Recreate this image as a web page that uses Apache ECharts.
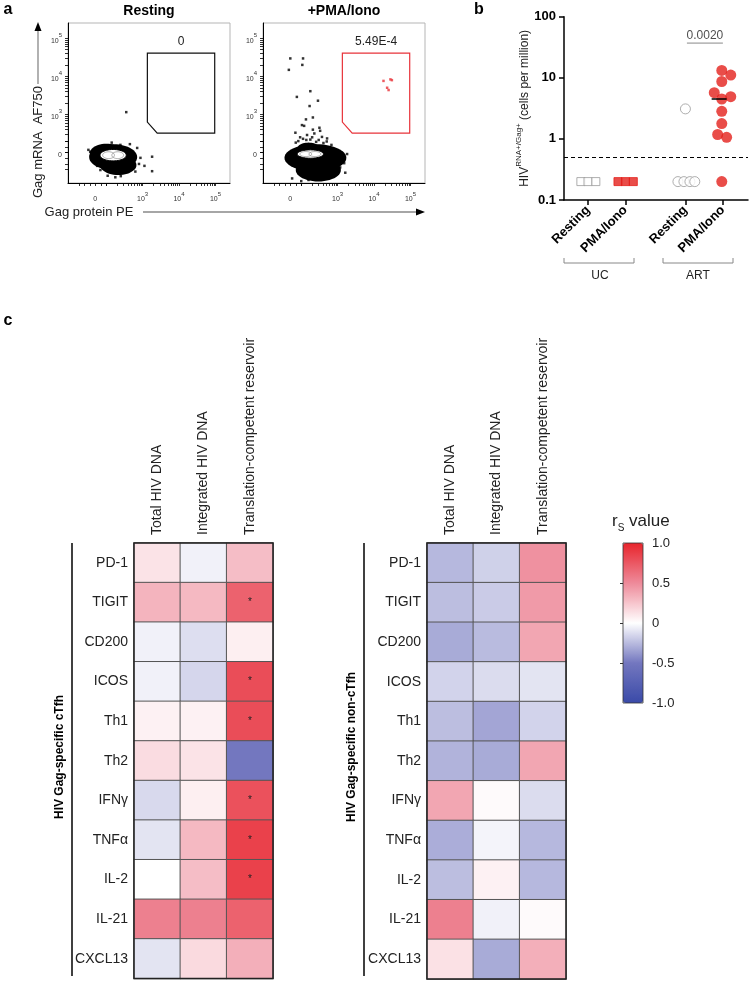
<!DOCTYPE html>
<html>
<head>
<meta charset="utf-8">
<script src="https://cdn.jsdelivr.net/npm/echarts@6.0.0/dist/echarts.min.js"></script>
<style>
html, body { margin: 0; padding: 0; background: #fff; }
#chart { width: 750px; height: 982px; }
</style>
</head>
<body>
<div id="chart"></div>
<script>
const FONT = '"Liberation Sans", Arial, sans-serif';

// ---- panel a: flow plots (axis units: 0 = zero, one unit per decade) ----
const flowTitles = ['Resting', '+PMA/Iono'];
const flowXTicks = [0, 1.3, 2.3, 3.3];
const flowYTicks = [0, 1, 2, 3];
const flowTickExp = ['', '3', '4', '5'];
const gatePolygon = [[1.43, 2.61], [3.28, 2.61], [3.28, 0.51], [1.70, 0.51], [1.43, 0.80]];
const gateFreq = ['0', '5.49E-4'];
const gateColors = ['#111', '#e8333a'];

// dense population drawn as ellipses [cx, cy, rx, ry]
const restingBlob = [[0.49, -0.12, 0.66, 0.34], [0.63, -0.33, 0.5, 0.26], [0.3, -0.02, 0.45, 0.25]];
const restingCore = [0.49, -0.07, 0.36, 0.15];
const restingEvents = [
  [0.85, 1.06], [1.56, -0.11], [1.35, -0.35], [1.56, -0.49], [1.10, -0.50],
  [0.34, -0.61], [0.55, -0.65], [-0.14, 0.02], [-0.19, 0.07], [-0.08, -0.2],
  [1.15, 0.12], [1.24, -0.14], [0.9, -0.51], [0.14, -0.46], [0.69, 0.2], [0.27, 0.17],
  [0.45, 0.26], [0.95, 0.22], [1.2, -0.3], [0.7, -0.62], [0.05, -0.35], [-0.12, -0.08]
];
const pmaBlob = [[0.69, -0.14, 0.85, 0.36], [0.77, -0.46, 0.62, 0.3], [0.5, 0.12, 0.3, 0.14]];
const pmaCore = [0.55, -0.04, 0.36, 0.11];
const pmaEvents = [
  [0.00, 2.47], [0.35, 2.47], [-0.04, 2.17], [0.33, 2.30], [0.18, 1.46], [0.55, 1.61],
  [0.76, 1.36], [0.53, 1.22], [0.62, 0.92], [0.43, 0.87], [0.32, 0.72], [0.38, 0.70],
  [0.14, 0.52], [0.80, 0.65], [0.82, 0.57], [0.66, 0.50], [0.46, 0.46], [0.27, 0.40],
  [0.60, 0.40], [0.87, 0.41], [1.01, 0.37], [1.42, -0.01], [1.56, -0.04], [1.48, -0.28],
  [1.37, -0.39], [1.51, -0.53], [0.50, -0.72], [0.05, -0.68], [0.22, 0.30], [0.44, 0.33],
  [0.71, 0.28], [0.91, 0.25], [1.13, 0.20], [-0.1, -0.1], [0.3, -0.75], [0.9, -0.7],
  [0.35, 0.36], [0.55, 0.34], [0.78, 0.33], [0.15, 0.26], [1.0, 0.29], [0.62, 0.6]
];
const pmaGateEvents = [[2.56, 1.88], [2.75, 1.92], [2.79, 1.90], [2.66, 1.70], [2.70, 1.64]];

// ---- panel b ----
const bCatPos = [0, 1, 2.6, 3.6];
const bCatNames = ['Resting', 'PMA/Iono', 'Resting', 'PMA/Iono'];
const ucResting = [[-0.19, 0.2], [0, 0.2], [0.21, 0.2]];
const ucPma = [[0.8, 0.2], [1, 0.2], [1.21, 0.2]];
const artResting = [[2.6, 3.1], [2.4, 0.2], [2.56, 0.2], [2.72, 0.2], [2.85, 0.2]];
const artPma = [[3.57, 13.2], [3.81, 11.1], [3.57, 8.7], [3.37, 5.7], [3.81, 4.9], [3.57, 4.5],
  [3.57, 2.83], [3.57, 1.78], [3.46, 1.18], [3.70, 1.06], [3.57, 0.2]];
const artPmaMedian = 4.5;
const detectionLimit = 0.5;
const pValue = '0.0020';
const pValueAt = 37;

// ---- panel c: heatmaps (Spearman r) ----
const hmCols = ['Total HIV DNA', 'Integrated HIV DNA', 'Translation-competent reservoir'];
const hmRows = ['PD-1', 'TIGIT', 'CD200', 'ICOS', 'Th1', 'Th2', 'IFNγ', 'TNFα', 'IL-2', 'IL-21', 'CXCL13'];
const cTfhValues = [
  [0.12, -0.05, 0.28],
  [0.32, 0.30, 0.70],
  [-0.05, -0.12, 0.07],
  [-0.05, -0.15, 0.80],
  [0.06, 0.06, 0.80],
  [0.15, 0.12, -0.50],
  [-0.14, 0.07, 0.78],
  [-0.10, 0.30, 0.86],
  [0.00, 0.28, 0.86],
  [0.55, 0.55, 0.70],
  [-0.10, 0.16, 0.34]
];
const cTfhStars = [[2, 1], [2, 3], [2, 4], [2, 6], [2, 7], [2, 8]];
const nonCTfhValues = [
  [-0.26, -0.17, 0.47],
  [-0.24, -0.19, 0.43],
  [-0.31, -0.25, 0.38],
  [-0.16, -0.13, -0.10],
  [-0.24, -0.33, -0.16],
  [-0.28, -0.31, 0.38],
  [0.38, 0.02, -0.13],
  [-0.30, -0.04, -0.26],
  [-0.24, 0.06, -0.26],
  [0.55, -0.05, 0.02],
  [0.13, -0.31, 0.34]
];
const scaleTicks = [-1, -0.5, 0, 0.5, 1];
const scaleColors = ['#3a4aa8', '#7377bf', '#ffffff', '#ee8a9a', '#e8252c'];

// ------------------------------------------------------------
function ring(api, cx, cy, rx, ry) {
  const pts = [];
  for (let i = 0; i < 48; i++) {
    const t = i / 48 * Math.PI * 2;
    pts.push(api.coord([cx + rx * Math.cos(t), cy + ry * Math.sin(t)]));
  }
  return pts;
}

function blobRender(params, api) {
  return {
    type: 'polygon',
    shape: { points: ring(api, api.value(0), api.value(1), api.value(2), api.value(3)) },
    style: { fill: '#000' }
  };
}

function coreRender(params, api) {
  const cx = api.value(0), cy = api.value(1), rx = api.value(2), ry = api.value(3);
  return {
    type: 'group',
    children: [
      { type: 'polygon', shape: { points: ring(api, cx, cy, rx, ry) }, style: { fill: '#fff', stroke: '#000', lineWidth: 1 } },
      { type: 'polygon', shape: { points: ring(api, cx - rx * 0.35, cy, rx * 0.45, ry * 0.6) }, style: { fill: 'none', stroke: '#888', lineWidth: 0.7 } },
      { type: 'polygon', shape: { points: ring(api, cx + rx * 0.35, cy, rx * 0.45, ry * 0.6) }, style: { fill: 'none', stroke: '#888', lineWidth: 0.7 } }
    ]
  };
}

function gateRender(color, freq) {
  return function (params, api) {
    if (params.dataIndex !== 0) return null;
    const pts = gatePolygon.map(p => api.coord(p));
    return {
      type: 'group',
      children: [
        { type: 'polygon', shape: { points: pts }, style: { fill: 'none', stroke: color, lineWidth: 1.2 } },
        { type: 'text', x: (pts[0][0] + pts[1][0]) / 2, y: pts[0][1] - 11,
          style: { text: freq, font: '12px ' + FONT, fill: '#222', align: 'center', verticalAlign: 'middle' } }
      ]
    };
  };
}

function minorTicks(major) {
  const out = [-0.45, -0.3, -0.15, 0, 0.15, 0.3];
  for (let d = major[1] - 1; d < major[3] - 0.01; d += 1) {
    for (let k = 1; k <= 9; k++) out.push(+(d + Math.log10(k)).toFixed(3));
  }
  out.push(major[3]);
  return out;
}

const expRich = {
  b: { fontSize: 7, color: '#333', fontFamily: FONT, lineHeight: 12, verticalAlign: 'bottom' },
  s: { fontSize: 6, color: '#333', fontFamily: FONT, lineHeight: 7, verticalAlign: 'top' }
};

function flowLabel(ticks) {
  return function (v) {
    const i = ticks.findIndex(t => Math.abs(t - v) < 1e-6);
    if (i <= 0) return '{b|0}';
    return '{b|10}{s|' + flowTickExp[i] + '}';
  };
}

const flowGridPos = [68, 263];
const grids = flowGridPos.map(l => ({
  left: l, top: 23, width: 162, height: 160, show: true,
  borderColor: '#b5b5b5', borderWidth: 1, backgroundColor: 'transparent', outerBoundsMode: 'none'
}));
grids.push({ left: 564, top: 16.7, width: 184, height: 183.3, outerBoundsMode: 'none' });
grids.push({ left: 134, top: 543, width: 139, height: 435.5, outerBoundsMode: 'none' });
grids.push({ left: 427, top: 543, width: 139, height: 436, outerBoundsMode: 'none' });
grids.push({ left: 623, top: 543, width: 20, height: 160, outerBoundsMode: 'none' });

const xAxes = [], yAxes = [];
[0, 1].forEach(i => {
  xAxes.push({
    type: 'value', gridIndex: i, min: -0.75, max: 3.7,
    axisLine: { show: true, onZero: false, lineStyle: { color: '#000', width: 1 } },
    axisTick: { show: true, length: 3, customValues: minorTicks(flowXTicks), lineStyle: { color: '#000', width: 0.8 } },
    axisLabel: { customValues: flowXTicks, formatter: flowLabel(flowXTicks), rich: expRich, margin: 8 },
    splitLine: { show: false }
  });
  yAxes.push({
    type: 'value', gridIndex: i, min: -0.8, max: 3.4,
    axisLine: { show: true, onZero: false, lineStyle: { color: '#000', width: 1 } },
    axisTick: { show: true, length: 3, customValues: minorTicks(flowYTicks), lineStyle: { color: '#000', width: 0.8 } },
    axisLabel: { customValues: flowYTicks, formatter: flowLabel(flowYTicks), rich: expRich, margin: 6 },
    splitLine: { show: false }
  });
});

// panel b axes
xAxes.push({
  type: 'value', gridIndex: 2, min: -0.64, max: 4.27,
  axisLine: { show: true, onZero: false, lineStyle: { color: '#000', width: 1.5 } },
  axisTick: { show: true, length: 5, customValues: bCatPos, lineStyle: { color: '#000', width: 1.5 } },
  axisLabel: {
    customValues: bCatPos, rotate: 45, margin: 8,
    fontFamily: FONT, fontSize: 13, fontWeight: 'bold', color: '#000',
    formatter: v => bCatNames[bCatPos.findIndex(t => Math.abs(t - v) < 1e-6)] || ''
  },
  splitLine: { show: false }
});
yAxes.push({
  type: 'log', gridIndex: 2, min: 0.1, max: 100, logBase: 10,
  axisLine: { show: true, onZero: false, lineStyle: { color: '#000', width: 1.5 } },
  axisTick: { show: true, length: 5, lineStyle: { color: '#000', width: 1.5 } },
  axisLabel: { fontFamily: FONT, fontSize: 13, fontWeight: 'bold', color: '#000', margin: 8, formatter: v => String(v) },
  splitLine: { show: false },
  name: '{a|HIV}{s|RNA+/Gag+}{a| (cells per million)}',
  nameLocation: 'middle', nameRotate: 90, nameGap: 30,
  nameTextStyle: {
    rich: {
      a: { fontFamily: FONT, fontSize: 12, color: '#222', lineHeight: 16, verticalAlign: 'bottom' },
      s: { fontFamily: FONT, fontSize: 8, color: '#222', lineHeight: 9, verticalAlign: 'top' }
    }
  }
});

// heatmap axes
[3, 4].forEach(g => {
  xAxes.push({
    type: 'category', gridIndex: g, data: hmCols, position: 'top',
    axisLine: { show: false }, axisTick: { show: false }, splitLine: { show: false },
    axisLabel: { rotate: -90, interval: 0, margin: 8, fontFamily: FONT, fontSize: 14, color: '#222' }
  });
  yAxes.push({
    type: 'category', gridIndex: g, data: hmRows, inverse: true,
    axisLine: { show: false }, axisTick: { show: false }, splitLine: { show: false },
    axisLabel: { interval: 0, margin: 6, fontFamily: FONT, fontSize: 14, color: '#222' }
  });
});

// colour-scale axis
xAxes.push({ type: 'value', gridIndex: 5, show: false });
yAxes.push({
  type: 'value', gridIndex: 5, min: -1, max: 1, interval: 0.5, position: 'right',
  axisLine: { show: false },
  axisTick: { show: true, inside: true, length: 3, customValues: [-0.5, 0, 0.5], lineStyle: { color: '#333', width: 1 } },
  axisLabel: {
    margin: 9, fontFamily: FONT, fontSize: 13, color: '#222',
    customValues: scaleTicks, formatter: v => (v === 0 ? '0' : v.toFixed(1))
  },
  splitLine: { show: false }
});

function heatData(values, stars) {
  const out = [];
  values.forEach((row, r) => row.forEach((v, c) => {
    const starred = stars.some(s => s[0] === c && s[1] === r);
    out.push(starred
      ? { value: [c, r, v], label: { show: true, formatter: '*', fontSize: 10, color: '#222', fontFamily: FONT } }
      : [c, r, v]);
  }));
  return out;
}

const series = [];
const flowData = [
  { blob: restingBlob, core: restingCore, events: restingEvents, red: [] },
  { blob: pmaBlob, core: pmaCore, events: pmaEvents, red: pmaGateEvents }
];
flowData.forEach((f, i) => {
  const ax = { xAxisIndex: i, yAxisIndex: i, silent: true, animation: false };
  series.push(Object.assign({ type: 'custom', renderItem: blobRender, data: f.blob, z: 2 }, ax));
  series.push(Object.assign({ type: 'scatter', symbol: 'rect', symbolSize: 2.5, itemStyle: { color: '#000' }, data: f.events, z: 2 }, ax));
  series.push(Object.assign({ type: 'custom', renderItem: coreRender, data: [f.core], z: 3 }, ax));
  series.push(Object.assign({ type: 'custom', renderItem: gateRender(gateColors[i], gateFreq[i]), data: gatePolygon, z: 4 }, ax));
  if (f.red.length) {
    series.push(Object.assign({ type: 'scatter', symbol: 'rect', symbolSize: 2.5, itemStyle: { color: '#e8333a' }, data: f.red, z: 5 }, ax));
  }
});

const bAx = { xAxisIndex: 2, yAxisIndex: 2, silent: true };
series.push(Object.assign({
  type: 'scatter', symbol: 'rect', symbolSize: 8, data: ucResting,
  itemStyle: { color: '#fff', borderColor: '#9a9a9a', borderWidth: 1 },
  markLine: {
    silent: true, symbol: 'none', label: { show: false },
    lineStyle: { type: [4, 3], color: '#000', width: 1.2 },
    data: [{ yAxis: detectionLimit }]
  }
}, bAx));
series.push(Object.assign({
  type: 'scatter', symbol: 'rect', symbolSize: 8, data: ucPma,
  itemStyle: { color: '#e3211c', borderColor: '#e3211c', borderWidth: 1 }
}, bAx));
series.push(Object.assign({
  type: 'scatter', symbol: 'circle', symbolSize: 10, data: artResting,
  itemStyle: { color: '#fff', borderColor: '#9a9a9a', borderWidth: 1 }
}, bAx));
series.push(Object.assign({
  type: 'scatter', symbol: 'circle', symbolSize: 11, data: artPma,
  itemStyle: { color: '#e3211c' }, z: 3
}, bAx));
series.push(Object.assign({
  type: 'line', symbol: 'none', data: [[bCatPos[3] - 0.3, artPmaMedian], [bCatPos[3] + 0.1, artPmaMedian]],
  lineStyle: { color: '#000', width: 1.5 }, z: 4
}, bAx));
series.push(Object.assign({
  type: 'line', symbol: 'none', data: [[bCatPos[2] + 0.04, pValueAt], [bCatPos[3], pValueAt]],
  lineStyle: { color: '#888', width: 1 }
}, bAx));
series.push(Object.assign({
  type: 'scatter', symbolSize: 0, data: [[(bCatPos[2] + bCatPos[3]) / 2 + 0.02, pValueAt]],
  label: { show: true, position: 'top', distance: 1, formatter: pValue, fontFamily: FONT, fontSize: 12, color: '#222' }
}, bAx));

series.push({
  type: 'heatmap', xAxisIndex: 3, yAxisIndex: 3, data: heatData(cTfhValues, cTfhStars),
  itemStyle: { borderColor: '#555', borderWidth: 1 }, silent: true
});
series.push({
  type: 'heatmap', xAxisIndex: 4, yAxisIndex: 4, data: heatData(nonCTfhValues, []),
  itemStyle: { borderColor: '#555', borderWidth: 1 }, silent: true
});
const heatIdx = [series.length - 2, series.length - 1];

const T = (x, y, text, font, extra) => ({
  type: 'text', x, y, silent: true,
  style: Object.assign({ text, font: font + ' ' + FONT, fill: '#000', align: 'center', verticalAlign: 'middle' }, extra || {})
});

const graphic = [
  T(8, 10, 'a', 'bold 16px'),
  T(479, 10, 'b', 'bold 16px'),
  T(8, 321, 'c', 'bold 16px'),
  T(149, 11, flowTitles[0], 'bold 14px'),
  T(344, 11, flowTitles[1], 'bold 14px'),
  // y axis arrow for flow plots
  { type: 'line', shape: { x1: 38, y1: 84, x2: 38, y2: 30 }, style: { stroke: '#888', lineWidth: 1.3 } },
  { type: 'polygon', shape: { points: [[38, 22], [34.5, 31], [41.5, 31]] }, style: { fill: '#000' } },
  Object.assign(T(38, 142, 'Gag mRNA  AF750', '13px', { fill: '#222' }), { rotation: Math.PI / 2 }),
  // x axis arrow for flow plots
  T(89, 212, 'Gag protein PE', '13px', { fill: '#222' }),
  { type: 'line', shape: { x1: 143, y1: 212, x2: 417, y2: 212 }, style: { stroke: '#888', lineWidth: 1.3 } },
  { type: 'polygon', shape: { points: [[425, 212], [416, 208.5], [416, 215.5]] }, style: { fill: '#000' } },
  // group brackets in panel b
  { type: 'polyline', shape: { points: [[564, 258], [564, 263], [634, 263], [634, 258]] }, style: { stroke: '#888', lineWidth: 1, fill: 'none' } },
  { type: 'polyline', shape: { points: [[663, 258], [663, 263], [733, 263], [733, 258]] }, style: { stroke: '#888', lineWidth: 1, fill: 'none' } },
  T(600, 276, 'UC', '12px', { fill: '#222' }),
  T(698, 276, 'ART', '12px', { fill: '#222' }),
  // heatmap frames and group labels
  { type: 'rect', z: 100, shape: { x: 134, y: 543, width: 139, height: 435.5 }, style: { fill: 'none', stroke: '#222', lineWidth: 1.5 } },
  { type: 'rect', z: 100, shape: { x: 427, y: 543, width: 139, height: 436 }, style: { fill: 'none', stroke: '#222', lineWidth: 1.5 } },
  { type: 'line', shape: { x1: 72, y1: 543, x2: 72, y2: 976 }, style: { stroke: '#000', lineWidth: 1.5 } },
  { type: 'line', shape: { x1: 364, y1: 543, x2: 364, y2: 976 }, style: { stroke: '#000', lineWidth: 1.5 } },
  Object.assign(T(60, 757, 'HIV Gag-specific cTfh', 'bold 12px'), { rotation: Math.PI / 2 }),
  Object.assign(T(352, 747, 'HIV Gag-specific non-cTfh', 'bold 12px'), { rotation: Math.PI / 2 }),
  // colour scale title
  {
    type: 'text', x: 612, y: 523, silent: true,
    style: {
      text: '{r|r}{s|S}{r| value}', verticalAlign: 'middle', align: 'left',
      rich: {
        r: { fontFamily: FONT, fontSize: 17, fill: '#222', lineHeight: 20, verticalAlign: 'top' },
        s: { fontFamily: FONT, fontSize: 10, fill: '#222', lineHeight: 20, verticalAlign: 'bottom', padding: [8, 0, 0, 0] }
      }
    }
  },
  { type: 'rect', z: 100, shape: { x: 623, y: 543, width: 20, height: 160 }, style: { fill: 'none', stroke: '#333', lineWidth: 0.8 } }
];

const option = {
  animation: false,
  backgroundColor: '#fff',
  textStyle: { fontFamily: FONT },
  grid: grids,
  xAxis: xAxes,
  yAxis: yAxes,
  visualMap: {
    type: 'continuous', min: -1, max: 1, seriesIndex: heatIdx, calculable: false,
    left: 623, top: 543, itemWidth: 20, itemHeight: 160, padding: 0,
    text: null, inRange: { color: scaleColors }, orient: 'vertical'
  },
  graphic: graphic,
  series: series
};

const chart = echarts.init(document.getElementById('chart'));
chart.setOption(option);
</script>
</body>
</html>
